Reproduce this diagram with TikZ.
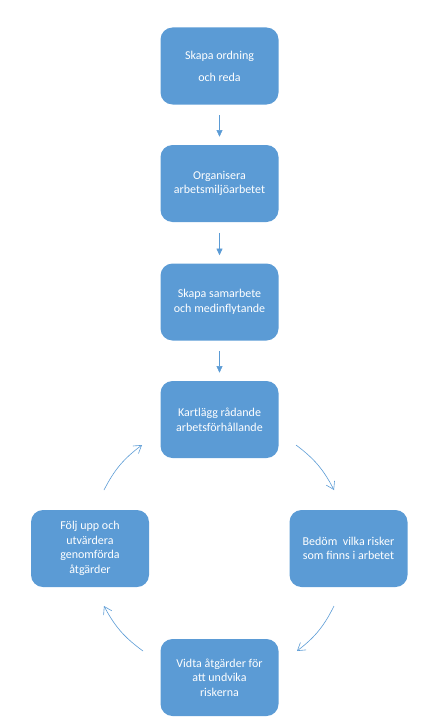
\documentclass[tikz,border=0pt]{standalone}
\usepackage{fontspec}
\setmainfont{Carlito}
\usepackage{xcolor}
\definecolor{boxblue}{HTML}{5B9BD5}
\definecolor{arrowblue}{HTML}{5B9BD5}
\usetikzlibrary{arrows.meta}
\tikzset{
    stepbox/.style={rounded corners=9pt, fill=boxblue, draw=none, text=white,
        minimum width=88.5pt, minimum height=57.75pt, align=center,
        font=\fontsize{9pt}{11pt}\selectfont},
    downarrow/.style={draw=arrowblue, -{Triangle[length=5pt,width=4.5pt]},
        shorten <=8pt, shorten >=6pt},
    cyclearrow/.style={draw=arrowblue, line width=0.45pt, -{Straight Barb[length=5.5pt,width=7pt]}}
}

\begin{document}
\begin{tikzpicture}[x=0.75pt,y=-0.75pt]
    \useasboundingbox (0,0) rectangle (448,717);

    % Steps in a row
    \node[stepbox, font=\fontsize{9pt}{16.5pt}\selectfont] (ordning) at (219.5,66) {Skapa ordning\\och reda};
    \node[stepbox] (organisera) at (219.5,183.5) {Organisera\\arbetsmiljöarbetet};
    \node[stepbox] (samarbete) at (219.5,302) {Skapa samarbete\\och medinflytande};

    % Steps in the cycle
    \node[stepbox] (kartlagg) at (219.5,419.5) {Kartlägg rådande\\arbetsförhållande};
    \node[stepbox] (bedom) at (348.5,548.5) {Bedöm\ \ vilka risker\\som finns i arbetet};
    \node[stepbox] (vidta) at (219.5,677.5) {Vidta åtgärder för\\att undvika\\riskerna};
    \node[stepbox] (folj) at (90,548.5) {Följ upp och\\utvärdera\\genomförda\\åtgärder};

    % Straight arrows
    \draw[downarrow] (ordning) -- (organisera);
    \draw[downarrow] (organisera) -- (samarbete);
    \draw[downarrow] (samarbete) -- (kartlagg);

    % Circle arrows
    \coordinate (ka) at (296,445);
    \coordinate (be1) at (334,490);
    \coordinate (be2) at (334,606);
    \coordinate (vi1) at (297,651);
    \coordinate (vi2) at (143,651);
    \coordinate (fo1) at (104,606);
    \coordinate (fo2) at (104,490);
    \coordinate (ka2) at (142,445);
    \draw[cyclearrow] (ka) to[bend left=13] (be1);
    \draw[cyclearrow] (be2) to[bend left=13] (vi1);
    \draw[cyclearrow] (vi2) to[bend left=13] (fo1);
    \draw[cyclearrow] (fo2) to[bend left=13] (ka2);
\end{tikzpicture}
\end{document}
